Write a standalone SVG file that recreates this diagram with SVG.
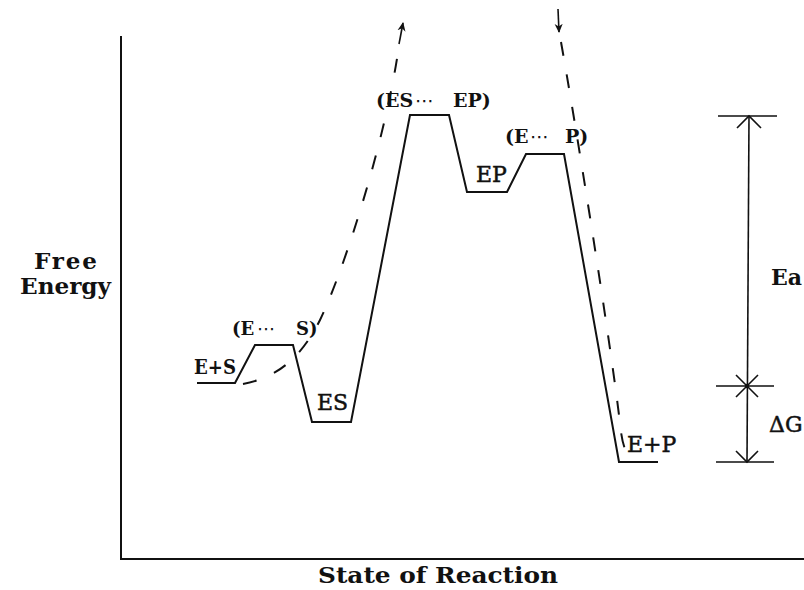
<svg xmlns="http://www.w3.org/2000/svg" width="804" height="590" viewBox="0 0 804 590">
  <style>
    .ln { fill: none; stroke: #111; stroke-width: 2; stroke-linejoin: miter; }
    .thin { fill: none; stroke: #111; stroke-width: 1.6; }
    .dash { fill: none; stroke: #111; stroke-width: 2; stroke-dasharray: 14 19; }
    .slab { font-family: "DejaVu Serif", "Liberation Serif", serif; font-weight: bold; fill: #111; }
    .serif { font-family: "DejaVu Serif", "Liberation Serif", serif; fill: #111; stroke: #111; stroke-width: 0.5; }
    .dots { font-family: "DejaVu Sans", sans-serif; font-weight: normal; }
  </style>
  <defs>
    <marker id="tip" viewBox="0 0 10 10" refX="9" refY="5" markerWidth="9" markerHeight="9" markerUnits="userSpaceOnUse" orient="auto">
      <path d="M0,0.5 L10,5 L0,9.5 L3,5 z" fill="#111"/>
    </marker>
  </defs>
  <rect width="804" height="590" fill="#fff"/>

  <g id="axes">
    <path class="ln" d="M121,36 V559 H804"/>
    <text class="slab" x="34" y="269" font-size="23" textLength="63" lengthAdjust="spacing">Free</text>
    <text class="slab" x="20" y="294" font-size="23" textLength="91" lengthAdjust="spacingAndGlyphs">Energy</text>
    <text class="slab" x="318" y="583" font-size="22" textLength="240" lengthAdjust="spacingAndGlyphs">State of Reaction</text>
  </g>

  <g id="profile">
    <path class="ln" d="M197,383 H235 L255,345 H293 L312,422 H351 L410,115 H449 L467,192 H507 L526,154 H564 L619,462 H658"/>
  </g>

  <g id="connectors">
    <path class="dash" d="M243,384 C275,378 300,360 320,320 C345,268 385,140 398,52"/>
    <path class="thin" d="M399,44 L403,23" marker-end="url(#tip)"/>
    <path class="thin" d="M558,9 L559,32" marker-end="url(#tip)"/>
    <path class="dash" d="M561,42 C575,120 612,350 621,432 Q624,455 634,461"/>
  </g>

  <g id="dimension">
    <path class="thin" d="M718,116 H777 M716,386 H774 M716,462 H774"/>
    <path class="thin" d="M749,116 L747,462"/>
    <path class="thin" d="M737,128 L749,116 L761,128"/>
    <path class="thin" d="M736,375 L758,397 M758,375 L736,397"/>
    <circle cx="747" cy="386" r="2.2" fill="#111"/>
    <path class="thin" d="M736,451 L747,462 L758,451"/>
    <text class="slab" x="771" y="285" font-size="22">Ea</text>
    <text class="serif" x="769" y="432" font-size="22">ΔG</text>
  </g>

  <g id="node-ES-reactants">
    <text class="slab" x="194" y="374" font-size="20" textLength="42" lengthAdjust="spacingAndGlyphs">E+S</text>
  </g>
  <g id="node-TS1">
    <text class="slab" font-size="18" y="335"><tspan x="232">(E</tspan><tspan class="dots" x="257">⋯</tspan><tspan x="296">S)</tspan></text>
  </g>
  <g id="node-ES">
    <text class="serif" x="317" y="410" font-size="22">ES</text>
  </g>
  <g id="node-TS2">
    <text class="slab" font-size="19" y="107"><tspan x="376">(ES</tspan><tspan class="dots" x="415">⋯</tspan><tspan x="453">EP)</tspan></text>
  </g>
  <g id="node-EP">
    <text class="serif" x="476" y="182" font-size="22">EP</text>
  </g>
  <g id="node-TS3">
    <text class="slab" font-size="19" y="143"><tspan x="505">(E</tspan><tspan class="dots" x="530">⋯</tspan><tspan x="565">P)</tspan></text>
  </g>
  <g id="node-EP-products">
    <text class="serif" x="627" y="452" font-size="22">E+P</text>
  </g>
</svg>
